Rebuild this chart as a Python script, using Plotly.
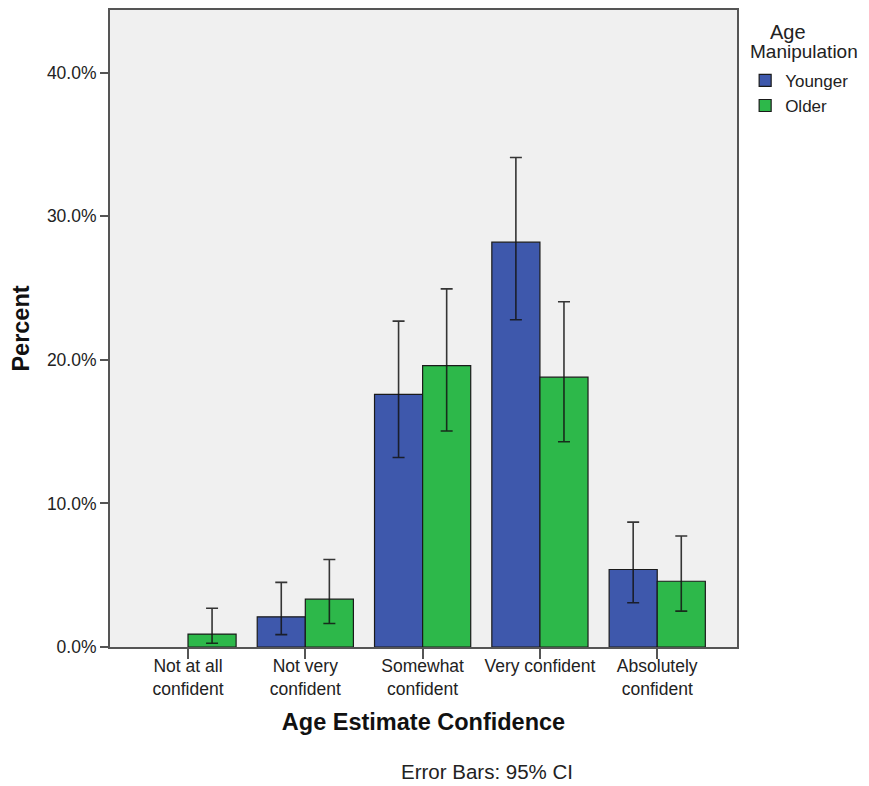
import plotly.graph_objects as go

categories = ["Not at all<br>confident", "Not very<br>confident", "Somewhat<br>confident",
              "Very confident", "Absolutely<br>confident"]
younger = [None, 2.1, 17.6, 28.2, 5.4]
younger_hi = [None, 4.5, 22.7, 34.1, 8.7]
younger_lo = [None, 0.86, 13.2, 22.8, 3.08]
older = [0.9, 3.33, 19.6, 18.8, 4.58]
older_hi = [2.7, 6.1, 24.95, 24.05, 7.73]
older_lo = [0.26, 1.64, 15.05, 14.3, 2.5]
y_ticks = [0, 10, 20, 30, 40]
y_tick_labels = ["0.0%", "10.0%", "20.0%", "30.0%", "40.0%"]

FONT = "Liberation Sans, Arial, sans-serif"
xpos = list(range(len(categories)))


def err(v, hi, lo):
    up = [None if a is None else h - a for a, h in zip(v, hi)]
    dn = [None if a is None else a - l for a, l in zip(v, lo)]
    return dict(type="data", symmetric=False, array=up, arrayminus=dn,
                color="rgba(20,20,20,0.85)", thickness=1.6, width=6)


fig = go.Figure()
fig.add_trace(go.Bar(x=xpos, y=younger, name="Younger",
                     marker=dict(color="#3e58ac", line=dict(color="#1a1a1a", width=1.2)),
                     error_y=err(younger, younger_hi, younger_lo)))
fig.add_trace(go.Bar(x=xpos, y=older, name="Older",
                     marker=dict(color="#2db84a", line=dict(color="#1a1a1a", width=1.2)),
                     error_y=err(older, older_hi, older_lo)))

fig.update_layout(
    width=861, height=778,
    margin=dict(l=102, r=132, t=0, b=139),
    paper_bgcolor="white", plot_bgcolor="#f0f0f0",
    barmode="group", bargap=0.18, bargroupgap=0,
    font=dict(family=FONT, color="#222222", size=14),
    showlegend=True,
    legend=dict(x=1.013, y=0.917, xanchor="left", yanchor="top",
                font=dict(family=FONT, size=17, color="#222222"),
                bgcolor="rgba(0,0,0,0)", itemwidth=30, tracegroupgap=0,
                traceorder="normal"),
    xaxis=dict(tickmode="array", tickvals=xpos, ticktext=categories,
               range=[-0.665, 4.68], showgrid=False, zeroline=False,
               showline=True, linecolor="#555555", linewidth=2, mirror=True,
               ticks="outside", ticklen=10, tickwidth=1.5, tickcolor="#555555",
               ticklabelstandoff=-8,
               tickfont=dict(family=FONT, size=17.5, color="#222222"),
               title=dict(text="<b>Age Estimate Confidence</b>", standoff=16,
                          font=dict(family=FONT, size=23.5, color="#111111"))),
    yaxis=dict(tickmode="array", tickvals=y_ticks, ticktext=y_tick_labels,
               range=[0, 44.375], showgrid=False, zeroline=False,
               showline=True, linecolor="#555555", linewidth=2, mirror=True,
               ticks="outside", ticklen=8, tickwidth=1.5, tickcolor="#555555",
               tickfont=dict(family=FONT, size=17.5, color="#222222"),
               title=dict(text="<b>Percent</b>", standoff=12,
                          font=dict(family=FONT, size=23.5, color="#111111"))),
    annotations=[
        dict(text="Age", xref="paper", yref="paper",
             x=1.0813, y=0.9656, xanchor="center", yanchor="middle", showarrow=False,
             font=dict(family=FONT, size=20, color="#222222")),
        dict(text="Manipulation", xref="paper", yref="paper",
             x=1.1065, y=0.9343, xanchor="center", yanchor="middle", showarrow=False,
             font=dict(family=FONT, size=19, color="#222222")),
        dict(text="Error Bars: 95% CI", xref="paper", yref="paper",
             x=0.601, y=-0.1956, xanchor="center", yanchor="middle", showarrow=False,
             font=dict(family=FONT, size=20.5, color="#222222")),
    ],
)

fig.write_html("out.html")
